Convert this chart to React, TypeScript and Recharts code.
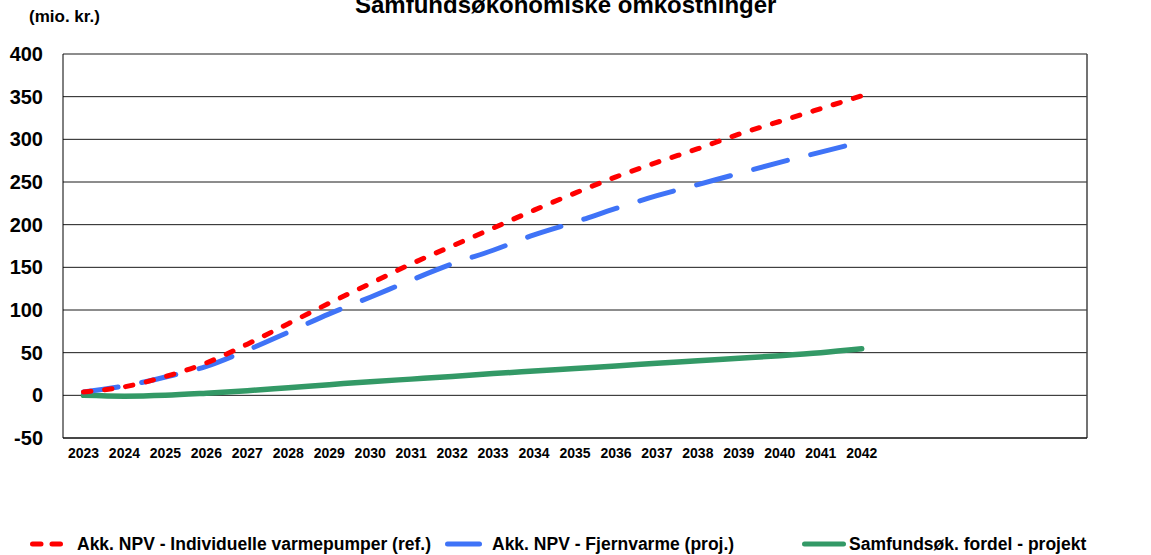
import React from 'react';
import { LineChart, Line, XAxis, YAxis, CartesianGrid, ReferenceLine } from 'recharts';

const years = [2023, 2024, 2025, 2026, 2027, 2028, 2029, 2030, 2031, 2032, 2033, 2034, 2035, 2036, 2037, 2038, 2039, 2040, 2041, 2042];
const individuelle = [4, 10, 22, 38, 60, 84, 108, 131, 154, 175, 196, 217, 237, 256, 273, 289, 306, 321, 336, 351];
const fjernvarme = [4, 11, 21.5, 34, 53, 74, 95.5, 115, 135, 154, 170, 188, 203, 219, 234, 247, 260, 273, 285, 297];
const fordel = [0, -1, 0, 2.5, 5.5, 9, 12.5, 16, 19, 22, 25.5, 28.5, 31.5, 34.5, 37.5, 40.5, 43.5, 46.5, 50, 54.5];
const yTicks = [-50, 0, 50, 100, 150, 200, 250, 300, 350, 400];

const data = years.map((year, i) => ({
  year,
  individuelle: individuelle[i],
  fjernvarme: fjernvarme[i],
  fordel: fordel[i],
}));

const font = '"Liberation Sans", Arial, sans-serif';
const RED = '#ff0000';
const BLUE = '#3f73f7';
const GREEN = '#339966';

const legendItems = [
  { label: 'Akk. NPV - Individuelle varmepumper (ref.)', color: RED, dash: '8.5 11', left: 30, width: 44 },
  { label: 'Akk. NPV - Fjernvarme (proj.)', color: BLUE, dash: undefined, left: 445, width: 37 },
  { label: 'Samfundsøk. fordel - projekt', color: GREEN, dash: undefined, left: 802, width: 44 },
];

export default function App() {
  return (
    <div style={{ position: 'absolute', left: 0, top: 0, width: 1151, height: 555, background: '#fff', fontFamily: font, overflow: 'hidden' }}>
      <div style={{ position: 'absolute', left: 0, width: 1151, top: -9, textAlign: 'center', paddingLeft: 0, fontSize: 24, fontWeight: 'bold', color: '#000' }}>
        <span style={{ position: 'absolute', left: 355, whiteSpace: 'nowrap' }}>Samfundsøkonomiske omkostninger</span>
      </div>
      <div style={{ position: 'absolute', left: 29, top: 7, fontSize: 17, fontWeight: 'bold', color: '#000', whiteSpace: 'nowrap' }}>
        (mio. kr.)
      </div>
      <LineChart width={1151} height={555} data={data} margin={{ top: 54, right: 64, bottom: 87, left: 0 }}>
        <CartesianGrid horizontal vertical={false} stroke="#1a1a1a" />
        <XAxis
          dataKey="year"
          type="number"
          domain={[2022.5, 2047.5]}
          ticks={years}
          interval={0}
          height={30}
          tickLine={false}
          tickSize={0}
          tickMargin={10}
          axisLine={{ stroke: '#000' }}
          tick={{ fontSize: 14, fontWeight: 'bold', fill: '#000', fontFamily: font }}
        />
        <YAxis
          width={63}
          domain={[-50, 400]}
          ticks={yTicks}
          interval={0}
          tickLine={false}
          tickSize={0}
          tickMargin={20}
          axisLine={{ stroke: '#000' }}
          tick={{ fontSize: 20, fontWeight: 'bold', fill: '#000', fontFamily: font }}
        />
        <ReferenceLine x={2047.5} stroke="#444" strokeWidth={1.5} />
        <Line type="monotone" dataKey="fordel" stroke={GREEN} strokeWidth={5.5} dot={false} isAnimationActive={false} strokeLinecap="round" />
        <Line type="monotone" dataKey="fjernvarme" stroke={BLUE} strokeWidth={5} strokeDasharray="35 24" strokeLinecap="round" dot={false} isAnimationActive={false} />
        <Line type="monotone" dataKey="individuelle" stroke={RED} strokeWidth={5} strokeDasharray="7.5 13.7" strokeLinecap="round" dot={false} isAnimationActive={false} />
      </LineChart>
      {legendItems.map((item) => (
        <div key={item.label} style={{ position: 'absolute', left: item.left, top: 533, height: 22, display: 'flex', alignItems: 'center', whiteSpace: 'nowrap' }}>
          <svg width={item.width} height={10} style={{ display: 'block' }}>
            <line x1={2.5} y1={5} x2={item.width - 2.5} y2={5} stroke={item.color} strokeWidth={5} strokeLinecap="round" strokeDasharray={item.dash} />
          </svg>
          <span style={{ marginLeft: item.left === 30 ? 3 : item.left === 445 ? 10 : 3, fontSize: 17.5, fontWeight: 'bold', color: '#000' }}>{item.label}</span>
        </div>
      ))}
    </div>
  );
}
